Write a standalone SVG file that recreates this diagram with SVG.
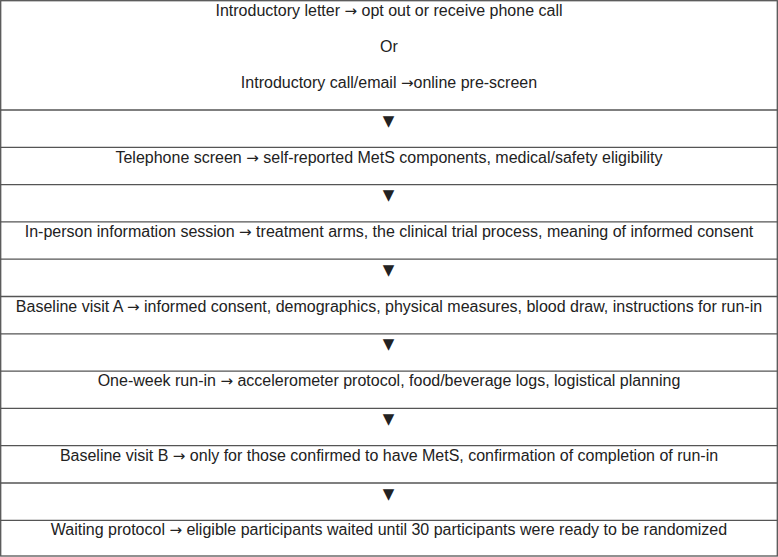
<svg xmlns="http://www.w3.org/2000/svg" width="778" height="557" viewBox="0 0 778 557">
<style>
.t{font-family:"Liberation Sans",Arial,sans-serif;font-size:16px;fill:#222;text-anchor:middle}
.a{font-family:"DejaVu Sans",sans-serif;font-size:15px}
.v{font-family:"DejaVu Sans",sans-serif;font-size:15px;fill:#222;text-anchor:middle}
.g{stroke:#555;stroke-width:1.3;fill:none}
</style>
<rect x="0" y="0" width="778" height="557" fill="#fff"/>
<g id="grid">
<rect class="g" x="0.7" y="0.7" width="776.6" height="555.3"/>
<line class="g" x1="0" y1="110" x2="778" y2="110"/>
<line class="g" x1="0" y1="147.3" x2="778" y2="147.3"/>
<line class="g" x1="0" y1="184.6" x2="778" y2="184.6"/>
<line class="g" x1="0" y1="221.9" x2="778" y2="221.9"/>
<line class="g" x1="0" y1="259.2" x2="778" y2="259.2"/>
<line class="g" x1="0" y1="296.5" x2="778" y2="296.5"/>
<line class="g" x1="0" y1="333.8" x2="778" y2="333.8"/>
<line class="g" x1="0" y1="371.1" x2="778" y2="371.1"/>
<line class="g" x1="0" y1="408.4" x2="778" y2="408.4"/>
<line class="g" x1="0" y1="445.7" x2="778" y2="445.7"/>
<line class="g" x1="0" y1="483" x2="778" y2="483"/>
<line class="g" x1="0" y1="520.3" x2="778" y2="520.3"/>
</g>
<g id="n1">
<text class="t" x="389" y="15.5">Introductory letter <tspan class="a">→</tspan> opt out or receive phone call</text>
<text class="t" x="389" y="52">Or</text>
<text class="t" x="389" y="88">Introductory call/email <tspan class="a">→</tspan>online pre-screen</text>
</g>
<g id="connectors">
<text class="v" x="388.5" y="125.5">▼</text>
<text class="v" x="388.5" y="200.1">▼</text>
<text class="v" x="388.5" y="274.7">▼</text>
<text class="v" x="388.5" y="349.3">▼</text>
<text class="v" x="388.5" y="423.9">▼</text>
<text class="v" x="388.5" y="498.5">▼</text>
</g>
<g id="n2"><text class="t" x="389" y="162.5">Telephone screen <tspan class="a">→</tspan> self-reported MetS components, medical/safety eligibility</text></g>
<g id="n3"><text class="t" x="389" y="237">In-person information session <tspan class="a">→</tspan> treatment arms, the clinical trial process, meaning of informed consent</text></g>
<g id="n4"><text class="t" x="389" y="311.5">Baseline visit A <tspan class="a">→</tspan> informed consent, demographics, physical measures, blood draw, instructions for run-in</text></g>
<g id="n5"><text class="t" x="389" y="386">One-week run-in <tspan class="a">→</tspan> accelerometer protocol, food/beverage logs, logistical planning</text></g>
<g id="n6"><text class="t" x="389" y="460.5">Baseline visit B <tspan class="a">→</tspan> only for those confirmed to have MetS, confirmation of completion of run-in</text></g>
<g id="n7"><text class="t" x="389" y="535">Waiting protocol <tspan class="a">→</tspan> eligible participants waited until 30 participants were ready to be randomized</text></g>
</svg>
